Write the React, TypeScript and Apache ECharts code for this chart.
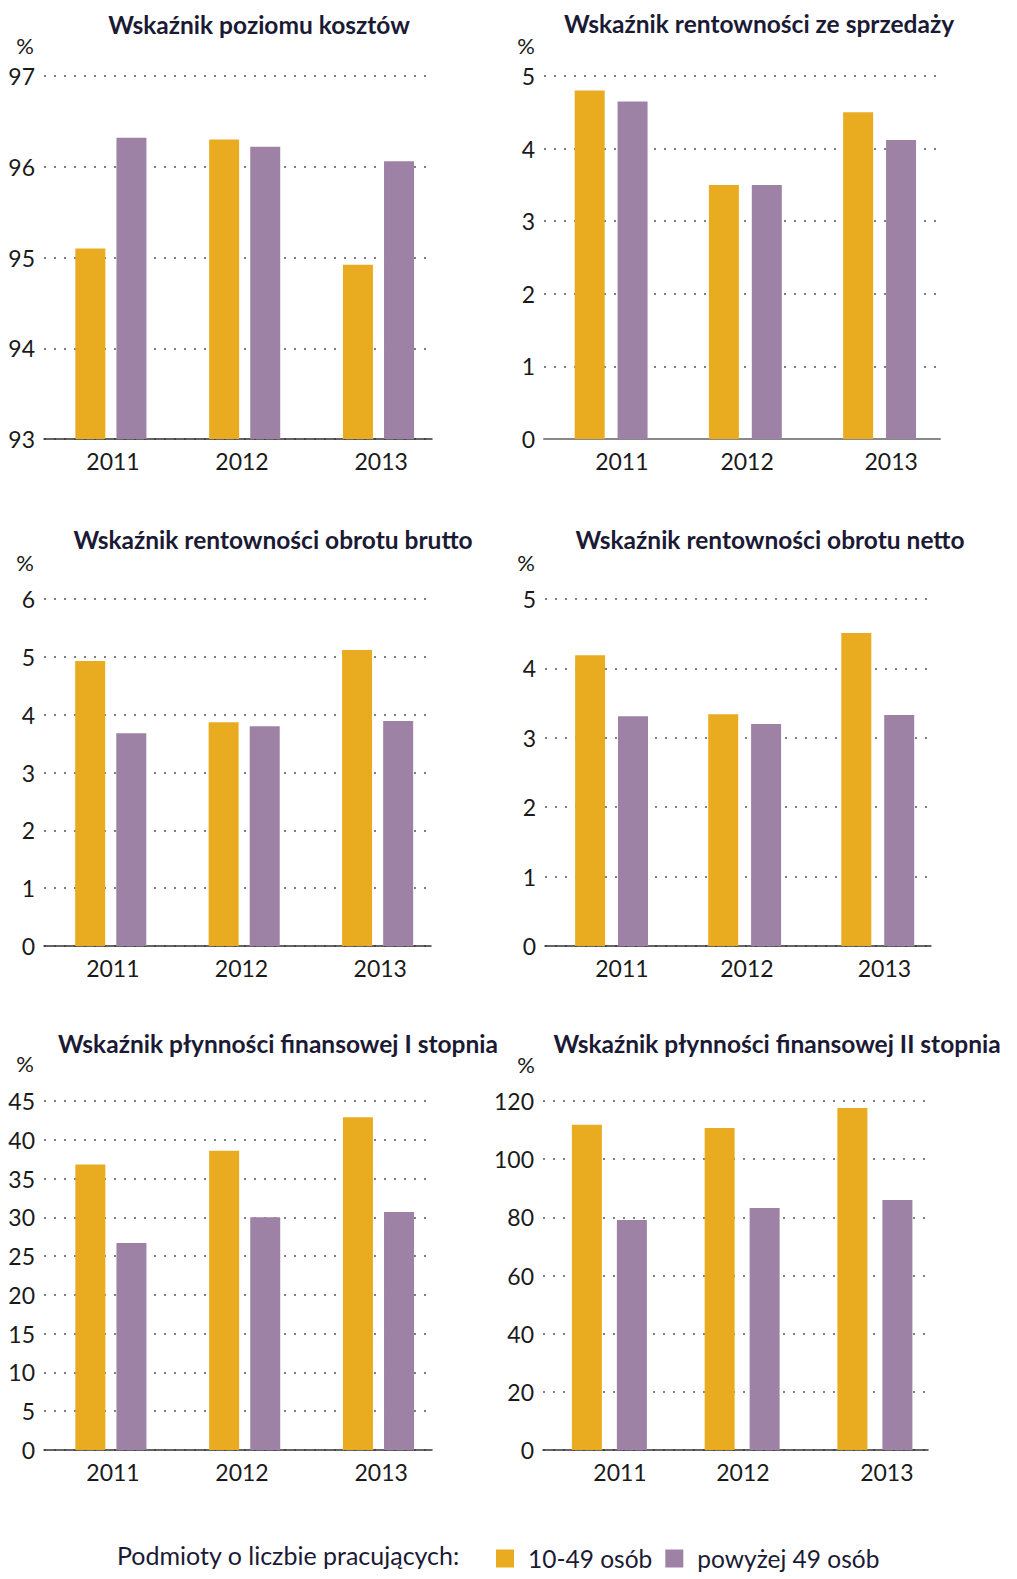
import React, { useEffect, useRef } from "react";
import * as echarts from "echarts";

const YEARS = ["2011", "2012", "2013"];
const SERIES_NAMES = ["10-49 osób", "powyżej 49 osób"];
const LEGEND_CAPTION = "Podmioty o liczbie pracujących:";

const TITLES = [
  "Wskaźnik poziomu kosztów",
  "Wskaźnik rentowności ze sprzedaży",
  "Wskaźnik rentowności obrotu brutto",
  "Wskaźnik rentowności obrotu netto",
  "Wskaźnik płynności finansowej I stopnia",
  "Wskaźnik płynności finansowej II stopnia",
];

// values: [10-49 osób], [powyżej 49 osób]
const kosztySmall = [95.1, 96.3, 94.92];
const kosztyLarge = [96.32, 96.22, 96.06];
const sprzedazSmall = [4.8, 3.5, 4.5];
const sprzedazLarge = [4.65, 3.5, 4.12];
const bruttoSmall = [4.93, 3.87, 5.12];
const bruttoLarge = [3.68, 3.8, 3.89];
const nettoSmall = [4.19, 3.34, 4.51];
const nettoLarge = [3.31, 3.2, 3.33];
const plynnosc1Small = [36.8, 38.6, 42.9];
const plynnosc1Large = [26.7, 30.0, 30.7];
const plynnosc2Small = [111.8, 110.7, 117.6];
const plynnosc2Large = [79.1, 83.2, 86.0];

// y axis scales: [min, max, interval]
const Y_SCALES = [
  [93, 97, 1],
  [0, 5, 1],
  [0, 6, 1],
  [0, 5, 1],
  [0, 45, 5],
  [0, 120, 20],
];

const PANEL_DATA = [
  [kosztySmall, kosztyLarge],
  [sprzedazSmall, sprzedazLarge],
  [bruttoSmall, bruttoLarge],
  [nettoSmall, nettoLarge],
  [plynnosc1Small, plynnosc1Large],
  [plynnosc2Small, plynnosc2Large],
];

const COLORS = ["#E9AC20", "#9E82A6"];

// layout (label positions are in x-axis units, slight offsets as in the original)
const PANELS = [
  { left: 44, width: 388, top: 76, height: 363, xMax: 2.4, gap: "37%", tx: 259, ty: 24, px: 25, py: 45, lp: [0.016, 0.98, 2.02] },
  { left: 544, width: 396, top: 76, height: 363, xMax: 2.45, gap: "43%", tx: 759, ty: 23, px: 526, py: 45, lp: [0.08, 1.013, 2.086] },
  { left: 44, width: 387, top: 599, height: 347, xMax: 2.4, gap: "37%", tx: 273, ty: 539, px: 25, py: 562, lp: [0.016, 0.98, 2.02] },
  { left: 545, width: 386, top: 599, height: 347, xMax: 2.4, gap: "43%", tx: 770, ty: 539, px: 526, py: 562, lp: [0.078, 1.017, 2.05] },
  { left: 44, width: 388, top: 1101, height: 349, xMax: 2.4, gap: "37%", tx: 278, ty: 1043, px: 25, py: 1063, lp: [0.016, 0.98, 2.02] },
  { left: 543, width: 385, top: 1101, height: 349, xMax: 2.4, gap: "50%", tx: 777, ty: 1043, px: 526, py: 1064, lp: [0.08, 1.006, 2.09] },
];

const FONT = "Lato";
const TEXT_COLOR = "#1a1a1a";
const TITLE_COLOR = "#1b1a35";

export default function App() {
  const ref = useRef<HTMLDivElement>(null);

  useEffect(() => {
    document.body.style.margin = "0";
    const chart = echarts.init(ref.current!, undefined, { renderer: "svg" });

    const grid: any[] = [];
    const xAxis: any[] = [];
    const yAxis: any[] = [];
    const series: any[] = [];
    const graphic: any[] = [];

    PANELS.forEach((p, k) => {
      grid.push({ left: p.left, top: p.top, width: p.width, height: p.height, containLabel: false });
      xAxis.push({
        type: "value",
        gridIndex: k,
        min: -0.5,
        max: p.xMax,
        axisLine: { show: true, onZero: false, lineStyle: { color: k === 1 ? "#888" : "#333", width: k === 1 ? 2 : 1.5 } },
        axisTick: { show: false },
        splitLine: { show: false },
        axisLabel: {
          customValues: p.lp,
          formatter: (v: number) => YEARS[Math.round(v)] ?? "",
          fontSize: 23,
          color: TEXT_COLOR,
          fontFamily: FONT,
          margin: 10,
        },
      });
      const [mn, mx, iv] = Y_SCALES[k];
      yAxis.push({
        type: "value",
        gridIndex: k,
        min: mn,
        max: mx,
        interval: iv,
        axisLine: { show: false },
        axisTick: { show: false },
        splitLine: { show: true, lineStyle: { type: [2, 8], width: 1.5, color: "#555" } },
        axisLabel: { fontSize: 23, color: TEXT_COLOR, fontFamily: FONT, margin: 9 },
      });
      PANEL_DATA[k].forEach((vals, s) => {
        series.push({
          type: "bar",
          name: SERIES_NAMES[s],
          xAxisIndex: k,
          yAxisIndex: k,
          barWidth: 30,
          barGap: p.gap,
          itemStyle: { color: COLORS[s] },
          data: vals.map((v, i) => [i, v]),
        });
      });
      graphic.push({
        type: "text",
        x: p.tx,
        y: p.ty,
        style: {
          text: TITLES[k],
          font: `bold 24.5px ${FONT}`,
          fill: TITLE_COLOR,
          align: "center",
          verticalAlign: "middle",
          textAlign: "center",
          textVerticalAlign: "middle",
        },
      });
      graphic.push({
        type: "text",
        x: p.px,
        y: p.py,
        style: {
          text: "%",
          font: `22px ${FONT}`,
          fill: TEXT_COLOR,
          align: "center",
          verticalAlign: "middle",
          textAlign: "center",
          textVerticalAlign: "middle",
        },
      });
    });

    graphic.push({
      type: "text",
      x: 117,
      y: 1555,
      style: {
        text: LEGEND_CAPTION,
        font: `25px ${FONT}`,
        fill: TITLE_COLOR,
        align: "left",
        verticalAlign: "middle",
        textAlign: "left",
        textVerticalAlign: "middle",
      },
    });

    chart.setOption({
      animation: false,
      textStyle: { fontFamily: FONT },
      grid,
      xAxis,
      yAxis,
      series,
      graphic,
      legend: {
        data: SERIES_NAMES,
        left: 496,
        top: 1546,
        padding: 0,
        itemWidth: 18,
        itemHeight: 18,
        itemGap: 13,
        icon: "rect",
        selectedMode: false,
        textStyle: { fontSize: 24.5, color: TITLE_COLOR, fontFamily: FONT, padding: [0, 0, 0, 9] },
      },
    });

    return () => chart.dispose();
  }, []);

  return <div ref={ref} style={{ width: 1017, height: 1579 }} />;
}
